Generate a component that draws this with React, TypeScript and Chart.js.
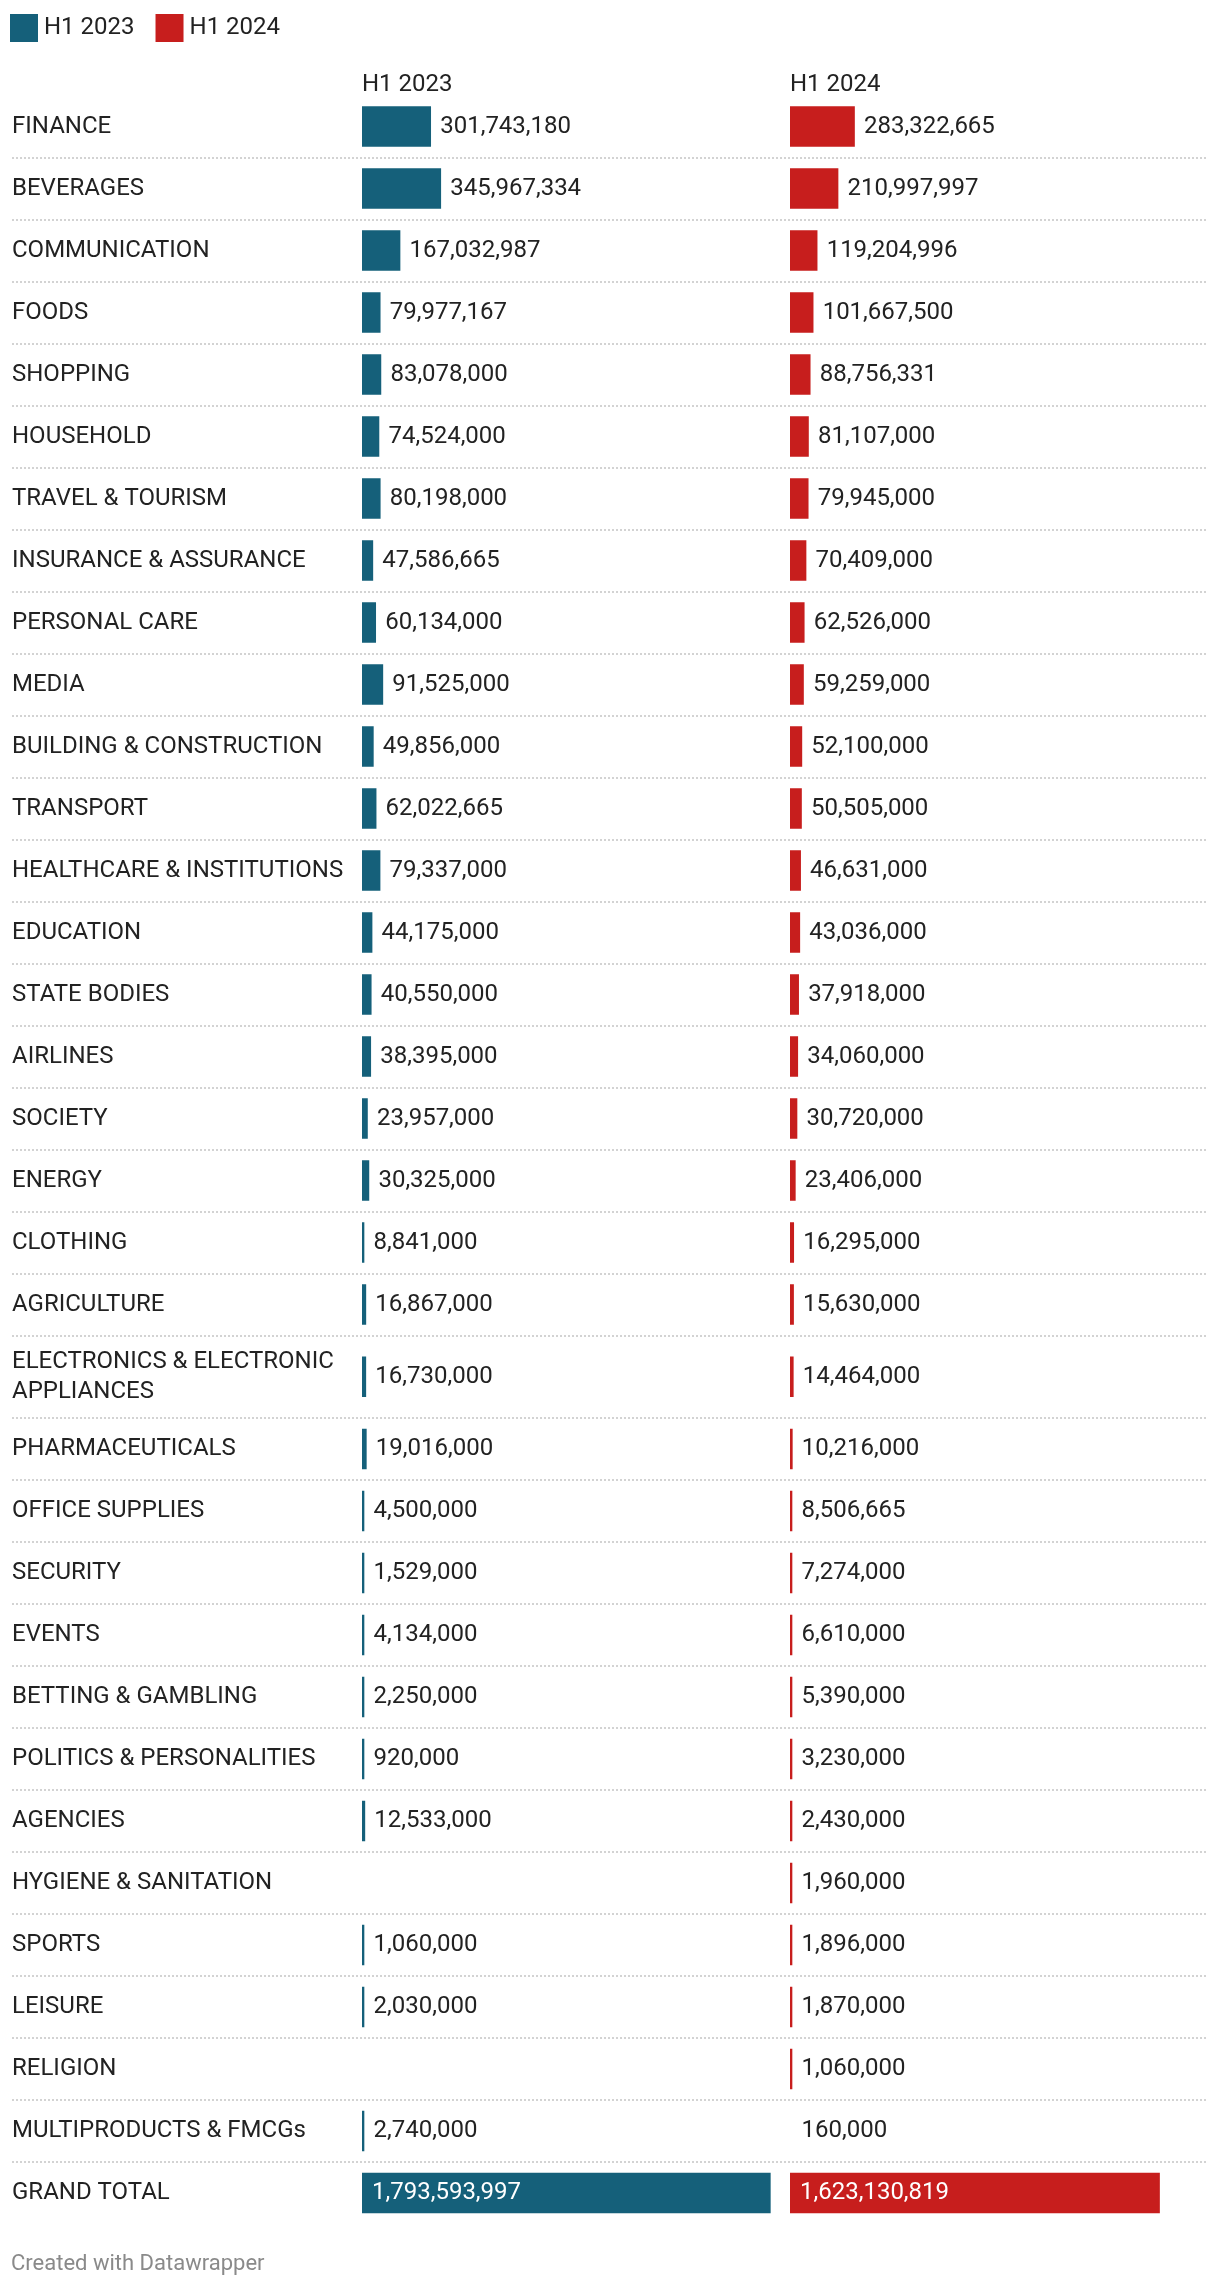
import React, { useEffect, useRef } from "react";
import { Chart, registerables } from "chart.js";

Chart.register(...registerables);

const categories: (string | string[])[] = [
  "FINANCE",
  "BEVERAGES",
  "COMMUNICATION",
  "FOODS",
  "SHOPPING",
  "HOUSEHOLD",
  "TRAVEL & TOURISM",
  "INSURANCE & ASSURANCE",
  "PERSONAL CARE",
  "MEDIA",
  "BUILDING & CONSTRUCTION",
  "TRANSPORT",
  "HEALTHCARE & INSTITUTIONS",
  "EDUCATION",
  "STATE BODIES",
  "AIRLINES",
  "SOCIETY",
  "ENERGY",
  "CLOTHING",
  "AGRICULTURE",
  ["ELECTRONICS & ELECTRONIC", "APPLIANCES"],
  "PHARMACEUTICALS",
  "OFFICE SUPPLIES",
  "SECURITY",
  "EVENTS",
  "BETTING & GAMBLING",
  "POLITICS & PERSONALITIES",
  "AGENCIES",
  "HYGIENE & SANITATION",
  "SPORTS",
  "LEISURE",
  "RELIGION",
  "MULTIPRODUCTS & FMCGs",
  "GRAND TOTAL",
];

const seriesNames = ["H1 2023", "H1 2024"];

const h1_2023: (number | null)[] = [
  301743180, 345967334, 167032987, 79977167, 83078000, 74524000, 80198000,
  47586665, 60134000, 91525000, 49856000, 62022665, 79337000, 44175000,
  40550000, 38395000, 23957000, 30325000, 8841000, 16867000, 16730000,
  19016000, 4500000, 1529000, 4134000, 2250000, 920000, 12533000, null,
  1060000, 2030000, null, 2740000, 1793593997,
];

const h1_2024: (number | null)[] = [
  283322665, 210997997, 119204996, 101667500, 88756331, 81107000, 79945000,
  70409000, 62526000, 59259000, 52100000, 50505000, 46631000, 43036000,
  37918000, 34060000, 30720000, 23406000, 16295000, 15630000, 14464000,
  10216000, 8506665, 7274000, 6610000, 5390000, 3230000, 2430000, 1960000,
  1896000, 1870000, 1060000, 160000, 1623130819,
];

const seriesColors = ["#15607a", "#c71e1d"];
const footerText = "Created with Datawrapper";

const X_MAX = 1.88e9;
const FONT = "Roboto";
const FS = 24;
const TEXT = "#222222";
const EXTRA_LINE = 0.33; // extra row height (in rows) per additional label line

// row layout in "row units": each row is 1 unit, plus extra for wrapped labels
const rowSpans = categories.map((c) =>
  Array.isArray(c) ? 1 + EXTRA_LINE * (c.length - 1) : 1
);
const rowStarts: number[] = [];
rowSpans.reduce((acc, s) => {
  rowStarts.push(acc);
  return acc + s;
}, 0);
const rowCenters = rowSpans.map((s, i) => rowStarts[i] + s / 2);
const totalRows = rowSpans.reduce((a, b) => a + b, 0);

export default function App() {
  const ref = useRef<HTMLCanvasElement | null>(null);

  useEffect(() => {
    const canvas = ref.current;
    if (!canvas) return;

    const decor = {
      id: "tableDecor",
      beforeDatasetsDraw(chart: any) {
        const { ctx, scales } = chart;
        const y = scales.y;
        ctx.save();
        ctx.strokeStyle = "#d3d3d3";
        ctx.lineWidth = 2;
        ctx.setLineDash([2, 2]);
        for (let i = 1; i < rowStarts.length; i++) {
          const yy = Math.round(y.getPixelForValue(rowStarts[i]));
          ctx.beginPath();
          ctx.moveTo(y.left, yy);
          ctx.lineTo(chart.width - 12, yy);
          ctx.stroke();
        }
        ctx.restore();
      },
      afterDatasetsDraw(chart: any) {
        const { ctx } = chart;
        const n = categories.length;
        ctx.save();
        ctx.font = `${FS}px ${FONT}`;
        ctx.textBaseline = "middle";
        ctx.textAlign = "left";
        chart.data.datasets.forEach((ds: any, d: number) => {
          const meta = chart.getDatasetMeta(d);
          ds.data.forEach((pt: any, i: number) => {
            const v = pt.x;
            if (v == null) return;
            const el: any = meta.data[i];
            const txt = v.toLocaleString("en-US");
            if (i === n - 1) {
              ctx.fillStyle = "#ffffff";
              ctx.fillText(txt, el.base + 10, el.y);
            } else {
              ctx.fillStyle = TEXT;
              ctx.fillText(txt, el.x + 9.5, el.y);
            }
          });
        });
        ctx.restore();
      },
      afterDraw(chart: any) {
        const { ctx, chartArea } = chart;
        ctx.save();
        ctx.font = `${FS}px ${FONT}`;
        ctx.textBaseline = "alphabetic";
        ctx.textAlign = "left";
        // legend
        let lx = 10;
        chart.data.datasets.forEach((ds: any, d: number) => {
          ctx.fillStyle = seriesColors[d];
          ctx.fillRect(lx, 14, 28, 28);
          ctx.fillStyle = TEXT;
          ctx.fillText(ds.label, lx + 34, 34);
          lx += 34 + ctx.measureText(ds.label).width + 21;
        });
        // column headers
        chart.data.datasets.forEach((ds: any) => {
          const sc = chart.scales[ds.xAxisID];
          ctx.fillStyle = TEXT;
          ctx.fillText(ds.label, sc.getPixelForValue(0), chartArea.top - 5);
        });
        // footer
        ctx.font = `22px ${FONT}`;
        ctx.fillStyle = "#8a8a8a";
        ctx.fillText(footerText, 11, 2270);
        ctx.restore();
      },
    };

    const mkColor = (c: string) => (ctx: any) => {
      const v = ctx.raw && ctx.raw.x;
      return v != null && v >= 500000 ? c : "rgba(0,0,0,0)";
    };

    const hiddenX = (weight: number) => ({
      type: "linear",
      position: "bottom",
      stack: "cols",
      stackWeight: 1,
      weight,
      min: 0,
      max: X_MAX,
      ticks: { display: false },
      grid: { display: false, drawTicks: false },
      border: { display: false },
      title: { display: false },
    });

    const toPoints = (arr: (number | null)[]) =>
      arr.map((v, i) => ({ x: v, y: rowCenters[i] }));

    const chart = new Chart(canvas, {
      type: "bar",
      data: {
        datasets: [
          {
            label: seriesNames[0],
            data: toPoints(h1_2023),
            xAxisID: "x",
            backgroundColor: mkColor(seriesColors[0]),
          },
          {
            label: seriesNames[1],
            data: toPoints(h1_2024),
            xAxisID: "x2",
            backgroundColor: mkColor(seriesColors[1]),
          },
        ] as any,
      },
      plugins: [decor],
      options: {
        indexAxis: "y",
        animation: false,
        responsive: false,
        devicePixelRatio: 1,
        layout: { padding: { top: 95.5, bottom: 62, left: 12, right: 2 } },
        datasets: {
          bar: {
            grouped: false,
            barThickness: 40,
            minBarLength: 2,
            borderWidth: 0,
          },
        } as any,
        plugins: {
          legend: { display: false },
          tooltip: { enabled: false },
          title: { display: false },
        },
        scales: {
          x: hiddenX(0) as any,
          x2: hiddenX(0) as any,
          y: {
            type: "linear",
            position: "left",
            reverse: true,
            offset: false,
            min: 0,
            max: totalRows,
            grid: { display: false, drawTicks: false, offset: false },
            border: { display: false },
            afterBuildTicks: (s: any) => {
              s.ticks = rowCenters.map((v) => ({ value: v }));
            },
            afterFit: (s: any) => {
              s.width = 350;
              s.paddingTop = 0;
              s.paddingBottom = 0;
            },
            ticks: {
              autoSkip: false,
              crossAlign: "far",
              padding: 0,
              color: TEXT,
              font: { family: FONT, size: FS, lineHeight: 1.25 },
              callback: (_v: any, i: number) => categories[i],
            },
          } as any,
        },
      },
    });

    return () => chart.destroy();
  }, []);

  return (
    <div
      style={{
        position: "absolute",
        left: 0,
        top: 0,
        width: 1220,
        height: 2286,
        background: "#ffffff",
      }}
    >
      <canvas
        ref={ref}
        width={1220}
        height={2286}
        style={{ display: "block", width: 1220, height: 2286 }}
      />
    </div>
  );
}
